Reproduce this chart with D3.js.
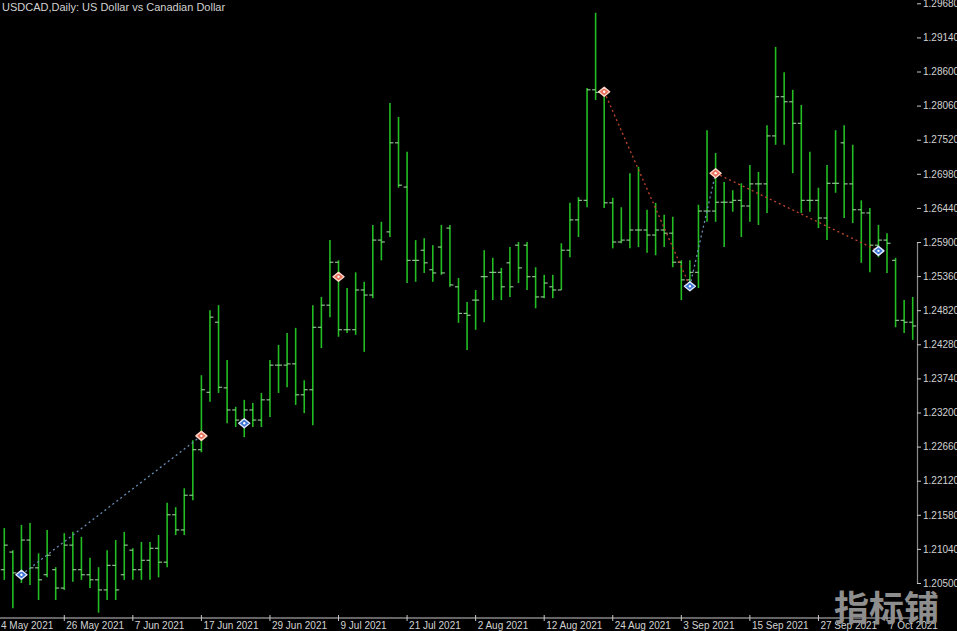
<!DOCTYPE html>
<html><head><meta charset="utf-8">
<script src="https://cdn.jsdelivr.net/npm/d3@7/dist/d3.min.js"></script>
<style>html,body{margin:0;padding:0;background:#000;overflow:hidden}svg{display:block}</style>
</head><body><svg id="c" width="957" height="631"></svg>
<script>
// ---- data ----
const title = "USDCAD,Daily:  US Dollar vs Canadian Dollar";
const firstBarDate = "2021-05-17", lastBarDate = "2021-10-12";
const open = [1.2071,1.2099,1.2066,1.2118,1.2074,1.2063,1.2071,1.2042,1.2110,1.2071,
1.2063,1.2055,1.2039,1.2078,1.2063,1.2102,1.2071,1.2086,1.2105,1.2083,
1.2158,1.2134,1.2189,1.2261,1.2352,1.2463,1.2359,1.2324,1.2308,1.2324,
1.2308,1.2340,1.2395,1.2395,1.2397,1.2348,1.2356,1.2455,1.2490,1.2558,
1.2451,1.2451,1.2514,1.2506,1.2593,1.2606,1.2747,1.2677,1.2561,1.2577,
1.2546,1.2582,1.2612,1.2519,1.2477,1.2498,1.2535,1.2542,1.2542,1.2557,
1.2585,1.2585,1.2535,1.2503,1.2519,1.2514,1.2577,1.2625,1.2656,1.2831,
1.2827,1.2652,1.2590,1.2593,1.2609,1.2609,1.2601,1.2609,1.2604,1.2558,
1.2530,1.2542,1.2639,1.2639,1.2653,1.2653,1.2656,1.2647,1.2682,1.2682,
1.2758,1.2820,1.2812,1.2778,1.2656,1.2656,1.2628,1.2683,1.2747,1.2682,
1.2641,1.2636,1.2585,1.2593,1.2561,1.2466,1.2463];
const high = [1.2137,1.2102,1.2142,1.2145,1.2097,1.2134,1.2075,1.2129,1.2131,1.2123,
1.2090,1.2075,1.2102,1.2118,1.2131,1.2105,1.2115,1.2115,1.2126,1.2177,
1.2170,1.2200,1.2276,1.2379,1.2482,1.2490,1.2403,1.2329,1.2340,1.2335,
1.2351,1.2403,1.2427,1.2446,1.2454,1.2371,1.2490,1.2503,1.2593,1.2561,
1.2517,1.2542,1.2527,1.2617,1.2622,1.2810,1.2788,1.2733,1.2593,1.2596,
1.2585,1.2617,1.2617,1.2533,1.2495,1.2514,1.2577,1.2565,1.2549,1.2582,
1.2590,1.2590,1.2550,1.2538,1.2538,1.2588,1.2652,1.2661,1.2834,1.2953,
1.2831,1.2660,1.2645,1.2699,1.2709,1.2641,1.2652,1.2633,1.2630,1.2561,
1.2561,1.2649,1.2767,1.2731,1.2685,1.2672,1.2683,1.2712,1.2701,1.2775,
1.2899,1.2859,1.2831,1.2807,1.2733,1.2676,1.2712,1.2767,1.2775,1.2744,
1.2656,1.2644,1.2617,1.2604,1.2565,1.2498,1.2503];
const low = [1.2055,1.2010,1.2050,1.2047,1.2023,1.2059,1.2023,1.2039,1.2052,1.2055,
1.2042,1.2003,1.2023,1.2023,1.2055,1.2055,1.2055,1.2055,1.2059,1.2075,
1.2126,1.2126,1.2181,1.2257,1.2337,1.2351,1.2303,1.2297,1.2281,1.2297,
1.2297,1.2313,1.2351,1.2360,1.2332,1.2319,1.2300,1.2422,1.2471,1.2440,
1.2446,1.2443,1.2416,1.2501,1.2561,1.2598,1.2676,1.2525,1.2527,1.2541,
1.2527,1.2538,1.2519,1.2462,1.2419,1.2451,1.2463,1.2498,1.2498,1.2503,
1.2525,1.2514,1.2485,1.2501,1.2501,1.2514,1.2566,1.2598,1.2645,1.2815,
1.2644,1.2580,1.2588,1.2580,1.2582,1.2573,1.2569,1.2582,1.2550,1.2498,
1.2519,1.2517,1.2622,1.2622,1.2582,1.2638,1.2598,1.2622,1.2617,1.2636,
1.2744,1.2744,1.2699,1.2636,1.2638,1.2612,1.2593,1.2668,1.2628,1.2620,
1.2557,1.2542,1.2566,1.2541,1.2455,1.2446,1.2435];
const close = [1.2110,1.2066,1.2118,1.2074,1.2055,1.2094,1.2042,1.2110,1.2071,1.2063,
1.2055,1.2039,1.2078,1.2039,1.2110,1.2071,1.2086,1.2105,1.2083,1.2158,
1.2134,1.2189,1.2261,1.2356,1.2471,1.2360,1.2324,1.2308,1.2324,1.2308,
1.2340,1.2395,1.2395,1.2397,1.2348,1.2356,1.2455,1.2490,1.2558,1.2451,
1.2451,1.2514,1.2506,1.2593,1.2590,1.2747,1.2680,1.2561,1.2561,1.2557,
1.2541,1.2541,1.2522,1.2477,1.2474,1.2498,1.2535,1.2542,1.2519,1.2519,
1.2549,1.2535,1.2503,1.2525,1.2514,1.2577,1.2625,1.2656,1.2831,1.2827,
1.2652,1.2590,1.2593,1.2609,1.2609,1.2601,1.2609,1.2604,1.2558,1.2530,
1.2542,1.2639,1.2639,1.2653,1.2653,1.2656,1.2647,1.2682,1.2682,1.2758,
1.2820,1.2812,1.2778,1.2656,1.2656,1.2628,1.2683,1.2683,1.2682,1.2641,
1.2636,1.2585,1.2593,1.2588,1.2466,1.2463,1.2457];
const priceTicks = [1.29680,1.29140,1.28600,1.28060,1.27520,1.26980,1.26440,1.25900,1.25360,
1.24820,1.24280,1.23740,1.23200,1.22660,1.22120,1.21580,1.21040,1.20500];
const tickDates = ["2021-05-14","2021-05-26","2021-06-07","2021-06-17","2021-06-29","2021-07-09","2021-07-21",
"2021-08-02","2021-08-12","2021-08-24","2021-09-03","2021-09-15","2021-09-27","2021-10-07"];
const tickLabels = ["4 May 2021","26 May 2021","7 Jun 2021","17 Jun 2021","29 Jun 2021","9 Jul 2021","21 Jul 2021",
"2 Aug 2021","12 Aug 2021","24 Aug 2021","3 Sep 2021","15 Sep 2021","27 Sep 2021","7 Oct 2021"];
const signalDates = ["2021-05-19","2021-06-17","2021-06-24","2021-07-09","2021-08-23","2021-09-06","2021-09-09","2021-10-06"];
const signalPrices = [1.2063,1.2283,1.2303,1.2535,1.2828,1.2520,1.2699,1.2576];
const signalTypes = ["buy","sell","buy","sell","sell","buy","sell","buy"];
const legFrom = [0,4,5,6];
const legTo = [1,5,6,7];
const watermark = "指标铺";

// ---- layout ----
const W = 957, H = 631, plotR = 917, axisY = 618;
const svg = d3.select("#c");
svg.append("rect").attr("width", W).attr("height", H).attr("fill", "#000");

const parse = d3.utcParse("%Y-%m-%d");
const isWk = d => d.getUTCDay() !== 0 && d.getUTCDay() !== 6;
const dates = d3.utcDays(parse(firstBarDate), d3.utcDay.offset(parse(lastBarDate), 1)).filter(isWk);
const keys = dates.map(d3.utcFormat("%Y-%m-%d"));
const x = d3.scaleBand().domain(keys).range([0, plotR]);
const step = x.step();
const cx = k => {
  if (x(k) !== undefined) return x(k) + step / 2;
  const d = parse(k);
  const n = d3.utcDays(d, parse(firstBarDate)).filter(isWk).length;
  return x(keys[0]) + step / 2 - n * step;
};
const y = d3.scaleLinear().domain([1.205, 1.259]).range([583, 242]);

const plot = svg.append("g");
// bars
const bars = plot.selectAll("g.bar").data(keys).join("g").attr("class", "bar");
bars.append("line")
  .attr("x1", k => cx(k)).attr("x2", k => cx(k))
  .attr("y1", (k, i) => y(high[i])).attr("y2", (k, i) => y(low[i]))
  .attr("stroke", "#22bd22").attr("stroke-width", 1.6);
bars.append("line")
  .attr("x1", k => cx(k) - 3.5).attr("x2", k => cx(k))
  .attr("y1", (k, i) => y(open[i])).attr("y2", (k, i) => y(open[i]))
  .attr("stroke", "#a8e0a8").attr("stroke-width", 1);
bars.append("line")
  .attr("x1", k => cx(k)).attr("x2", k => cx(k) + 3.5)
  .attr("y1", (k, i) => y(close[i])).attr("y2", (k, i) => y(close[i]))
  .attr("stroke", "#a8e0a8").attr("stroke-width", 1);

// legs
legFrom.forEach((a, j) => {
  const b = legTo[j];
  const up = signalTypes[a] === "buy";
  plot.append("line")
    .attr("x1", cx(signalDates[a])).attr("y1", y(signalPrices[a]))
    .attr("x2", cx(signalDates[b])).attr("y2", y(signalPrices[b]))
    .attr("stroke", up ? "#6a8db5" : "#c2452f").attr("stroke-width", 1.3)
    .attr("stroke-dasharray", "2,3");
});
// markers: wide rounded diamonds
const diamond = "M-5.5,0L0,-4.5L5.5,0L0,4.5Z";
plot.selectAll("path.sig").data(signalDates).join("path").attr("class", "sig")
  .attr("d", diamond)
  .attr("transform", (d, i) => `translate(${cx(d)},${y(signalPrices[i])})`)
  .attr("fill", (d, i) => signalTypes[i] === "buy" ? "#3d74d6" : "#e8705c")
  .attr("stroke", (d, i) => signalTypes[i] === "buy" ? "#dfe8ff" : "#ffd6c8")
  .attr("stroke-width", 1.4).attr("stroke-linejoin", "round");
plot.selectAll("circle.sigc").data(signalDates).join("circle").attr("class", "sigc")
  .attr("cx", d => cx(d)).attr("cy", (d, i) => y(signalPrices[i])).attr("r", 1.2)
  .attr("fill", "#ffffff");

// right axis
const ra = svg.append("g").attr("transform", `translate(${plotR},0)`)
  .call(d3.axisRight(y).tickValues(priceTicks).tickFormat(d3.format(".5f")).tickSize(4).tickPadding(2));
ra.select(".domain").attr("stroke", "#8c8c8c").attr("stroke-width", 1.2);
ra.selectAll(".tick line").attr("stroke", "#c8c8c8");
ra.selectAll("text").attr("fill", "#d2d2d2").style("font", "10px 'Liberation Sans', Arial, sans-serif");

// bottom axis
svg.append("line").attr("x1", 0).attr("x2", plotR).attr("y1", axisY).attr("y2", axisY)
  .attr("stroke", "#c8c8c8").attr("stroke-width", 1.2);
const bt = svg.selectAll("g.bt").data(tickDates).join("g").attr("class", "bt");
bt.append("line")
  .attr("x1", d => cx(d)).attr("x2", d => cx(d)).attr("y1", axisY - 3).attr("y2", axisY + 3)
  .attr("stroke", "#c8c8c8");
bt.append("text")
  .attr("x", (d, i) => Math.max(1, cx(d) + 2)).attr("y", 629)
  .attr("fill", "#d2d2d2").style("font", "10px 'Liberation Sans', Arial, sans-serif")
  .text((d, i) => tickLabels[i]);

// title
svg.append("text").attr("x", 2).attr("y", 11).attr("fill", "#d0d0d0")
  .style("font", "11px 'Liberation Sans', Arial, sans-serif").text(title);

// watermark
svg.append("text").attr("x", 834).attr("y", 621).attr("fill", "#8e8e8e")
  .style("font", "bold 35px 'Noto Sans CJK SC', sans-serif").text(watermark);
</script></body></html>
